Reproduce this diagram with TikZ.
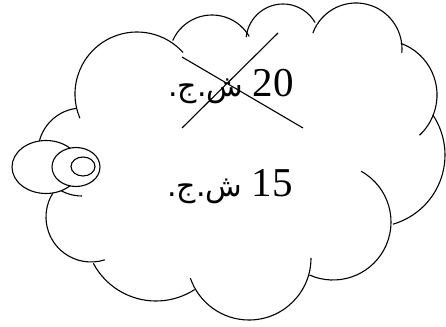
\documentclass[tikz,border=0pt]{standalone}
\usepackage{fontspec}
\usetikzlibrary{shapes.geometric}
\setmainfont{Liberation Serif}
\newfontfamily\arabicfont[Script=Arabic]{DejaVu Sans}
\TeXXeTstate=1
\begin{document}
\begin{tikzpicture}[x=1pt,y=1pt,
  lobe/.style={draw=black,line width=1.1pt},
  bubble/.style={draw=black,fill=white,line width=1.1pt,ellipse,inner sep=0pt},
  price/.style={anchor=base,inner sep=0pt},
  strike/.style={draw=black,line width=1.1pt}]
\useasboundingbox (0,0) rectangle (446,326);
% cloud lobes
\draw[lobe] ([shift={(203:62)}]137,232) arc[start angle=203,end angle=42,radius=62];
\draw[lobe] ([shift={(156:43)}]212,268) arc[start angle=156,end angle=30,radius=43];
\draw[lobe] ([shift={(174:37)}]283,285) arc[start angle=174,end angle=30,radius=37];
\draw[lobe] ([shift={(160:46)}]356,277) arc[start angle=160,end angle=-5,radius=46];
\draw[lobe] ([shift={(70:55)}]382,231) arc[start angle=70,end angle=-47,radius=55];
\draw[lobe] ([shift={(34:72)}]373,171) arc[start angle=34,end angle=-74,radius=72];
\draw[lobe] ([shift={(61:58)}]333,104) arc[start angle=61,end angle=-114,radius=58];
\draw[lobe] ([shift={(0:62)}]249,68) arc[start angle=0,end angle=-161,radius=62];
\draw[lobe] ([shift={(-57:71)}]156,96) arc[start angle=-57,end angle=-152,radius=71];
\draw[lobe] ([shift={(143:45)}]91,109) arc[start angle=143,end angle=288,radius=45];
\draw[lobe] ([shift={(97:44)}]82,174) arc[start angle=97,end angle=270,radius=44];
% tail bubbles
\node[bubble,minimum width=68pt,minimum height=53pt] (b1) at (46,159) {};
\node[bubble,minimum width=48pt,minimum height=39pt] (b2) at (76,159) {};
\node[bubble,minimum width=24pt,minimum height=19pt] (b3) at (83,159.5) {};
% prices
\node[price] (old) at (231,229) {\beginR\beginL{\fontsize{41}{44}\selectfont 20}\endL{}{\arabicfont\fontsize{30}{36}\selectfont\ ش.ج.}\endR};
\node[price] (new) at (230,129) {\beginR\beginL{\fontsize{41}{44}\selectfont 15}\endL{}{\arabicfont\fontsize{30}{36}\selectfont\ ش.ج.}\endR};
% cross-out
\coordinate (x1) at (182,269);
\coordinate (x2) at (303,198);
\coordinate (x3) at (278,293);
\coordinate (x4) at (182,198);
\draw[strike] (x1) -- (x2);
\draw[strike] (x3) -- (x4);
\end{tikzpicture}
\end{document}
